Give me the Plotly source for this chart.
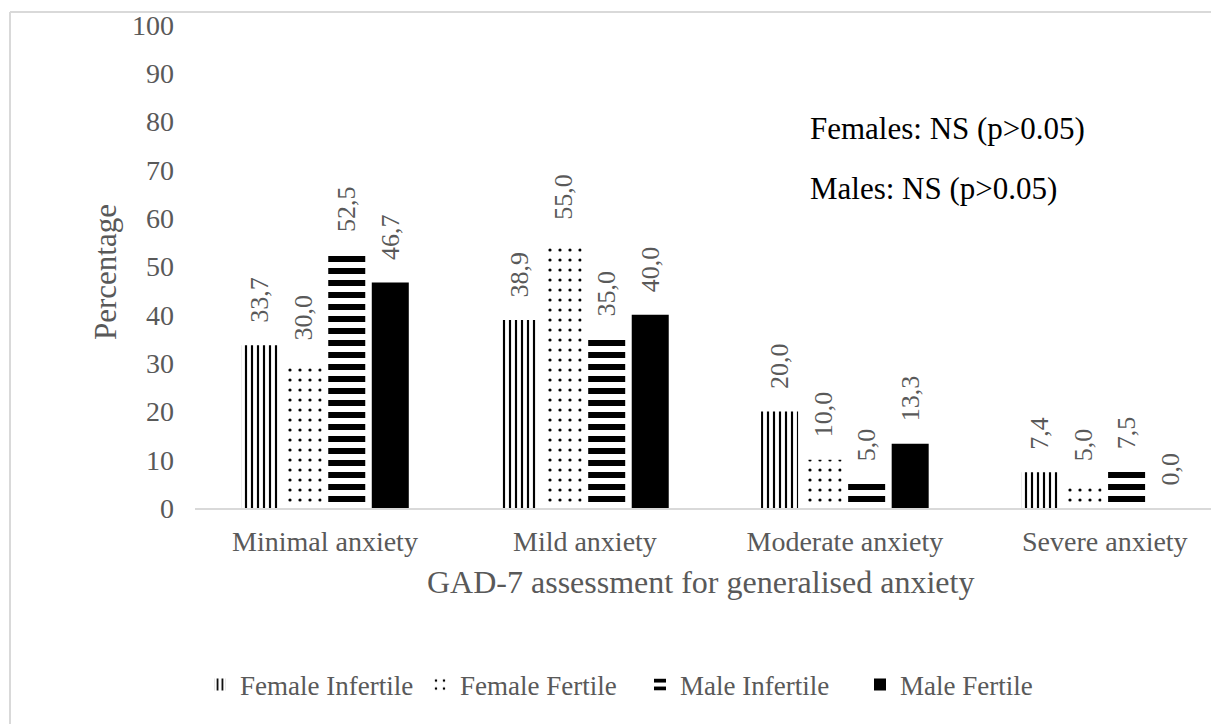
import plotly.graph_objects as go

categories = ["Minimal anxiety", "Mild anxiety", "Moderate anxiety", "Severe anxiety"]
female_infertile = [33.7, 38.9, 20.0, 7.4]
female_fertile = [30.0, 55.0, 10.0, 5.0]
male_infertile = [52.5, 35.0, 5.0, 7.5]
male_fertile = [46.7, 40.0, 13.3, 0.0]
series_names = ["Female Infertile", "Female Fertile", "Male Infertile", "Male Fertile"]
y_ticks = list(range(0, 101, 10))

W, H = 1219, 724
S = 8  # page offset of the figure in the screenshot
L, R, T, B = 187, 0, 17, 224
PW, PH = W - L - R, H - T - B

def px(x):
    return (x - S - L) / PW

def py(y):
    return (H - B - (y - S)) / PH

FONT = "Liberation Serif"
GREY = "#595959"
PAD = "\u00a0\u00a0\u00a0"  # gap between bar top and its rotated label

patterns = [
    dict(shape="|", size=6, solidity=0.36, fgcolor="black", bgcolor="white", fillmode="replace"),
    dict(shape=".", size=10, solidity=0.08, fgcolor="black", bgcolor="white", fillmode="replace"),
    dict(shape="-", size=12, solidity=0.5, fgcolor="black", bgcolor="white", fillmode="replace"),
    None,
]

fig = go.Figure()
for name, vals, pat in zip(series_names,
                           [female_infertile, female_fertile, male_infertile, male_fertile],
                           patterns):
    marker = dict(color="black", line=dict(width=0))
    if pat is not None:
        marker = dict(color="white", pattern=pat, line=dict(width=0))
    fig.add_trace(go.Bar(
        x=categories, y=vals, name=name, marker=marker,
        text=[PAD + f"{v:.1f}".replace(".", ",") for v in vals],
        textposition="outside", textangle=-90, constraintext="none",
        textfont=dict(family=FONT, size=26, color=GREY),
        cliponaxis=False,
    ))

fig.update_layout(
    width=W, height=H,
    margin=dict(l=L, r=R, t=T, b=B),
    paper_bgcolor="white", plot_bgcolor="white",
    barmode="group", bargap=0.33, bargroupgap=0.15,
    font=dict(family=FONT, color=GREY, size=26),
    showlegend=True,
    legend=dict(orientation="h", x=px(640), xanchor="center", y=py(685), yanchor="middle",
                font=dict(family=FONT, size=27, color=GREY), itemwidth=30,
                entrywidth=175, entrywidthmode="pixels", tracegroupgap=0),
)
fig.update_xaxes(range=[-0.5, 3.47], showline=True, linecolor="#d9d9d9", linewidth=2,
                 ticks="", ticklabelstandoff=7,
                 tickfont=dict(family=FONT, size=28, color=GREY),
                 showgrid=False, zeroline=False)
fig.update_yaxes(range=[0, 100], tickvals=y_ticks, showgrid=False, zeroline=False,
                 showline=False, ticks="", ticklabelstandoff=20,
                 tickfont=dict(family=FONT, size=28, color=GREY))

fig.add_annotation(text="GAD-7 assessment for generalised anxiety", xref="paper", yref="paper",
                   x=px(700), y=py(582), xanchor="center", yanchor="middle", showarrow=False,
                   font=dict(family=FONT, size=32, color=GREY))
fig.add_annotation(text="Percentage", xref="paper", yref="paper", textangle=-90,
                   x=px(105), y=py(272), xanchor="center", yanchor="middle", showarrow=False,
                   font=dict(family=FONT, size=31, color=GREY))
fig.add_annotation(text="Females: NS (p>0.05)", xref="paper", yref="paper",
                   x=px(808), y=py(128), xanchor="left", yanchor="middle", showarrow=False,
                   font=dict(family=FONT, size=31, color="black"))
fig.add_annotation(text="Males: NS (p>0.05)", xref="paper", yref="paper",
                   x=px(808), y=py(188), xanchor="left", yanchor="middle", showarrow=False,
                   font=dict(family=FONT, size=31, color="black"))

border = dict(color="#d9d9d9", width=2)
fig.add_shape(type="line", xref="paper", yref="paper", x0=px(10), x1=px(1240), y0=py(12), y1=py(12), line=border)
fig.add_shape(type="line", xref="paper", yref="paper", x0=px(10), x1=px(10), y0=py(12), y1=py(740), line=border)

fig.write_html("out.html")
